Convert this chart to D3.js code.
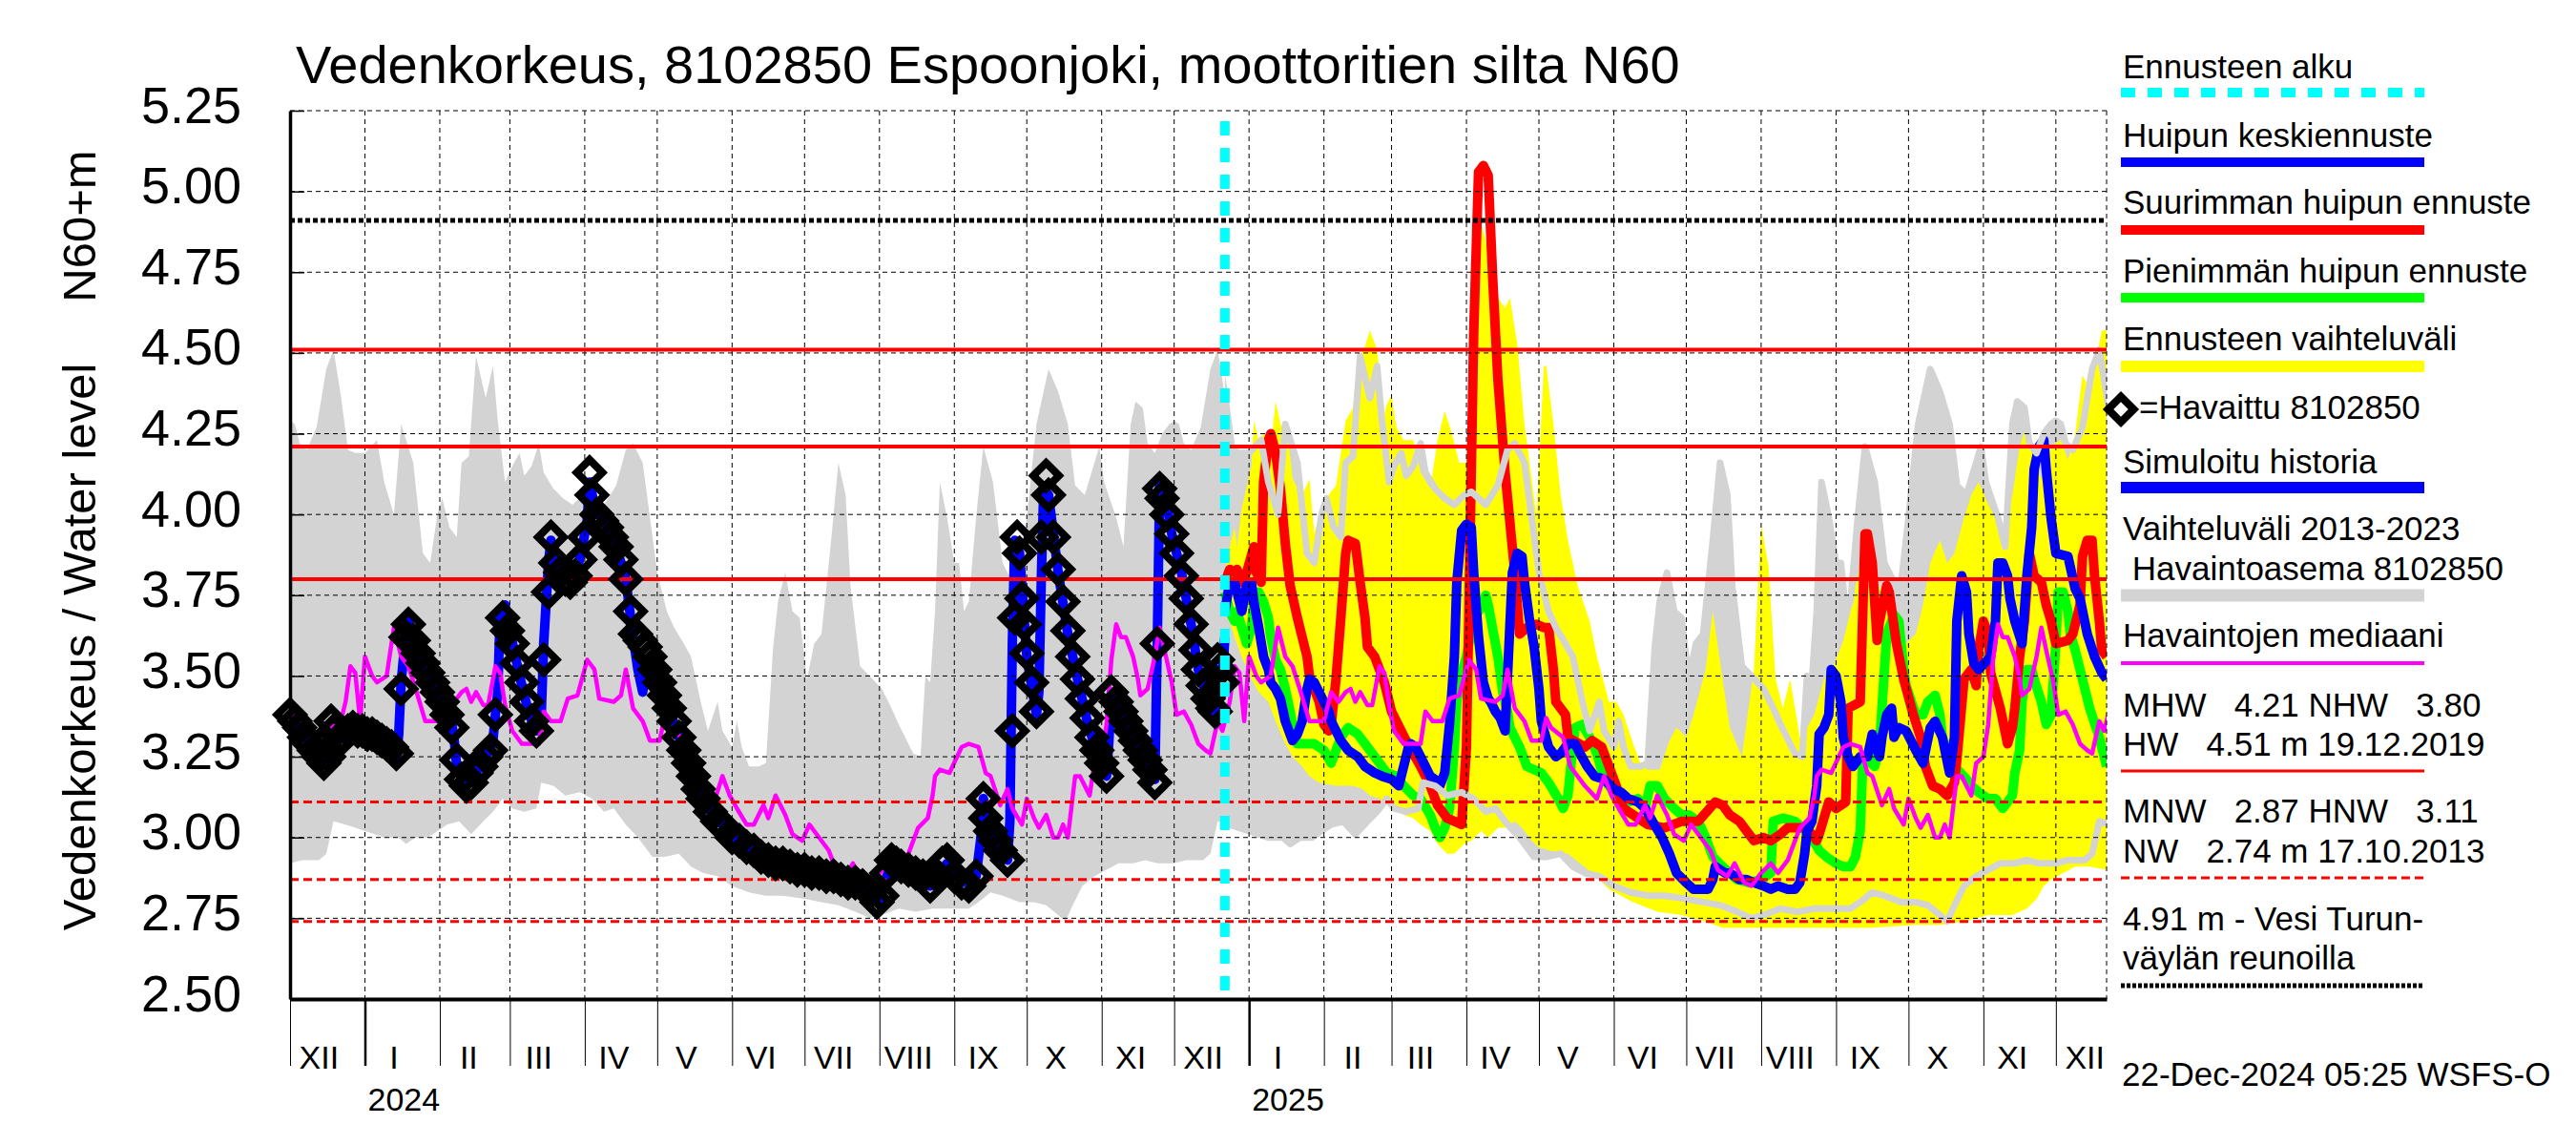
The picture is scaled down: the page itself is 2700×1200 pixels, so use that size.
<!DOCTYPE html>
<html lang="fi">
<head>
<meta charset="utf-8" />
<title>Vedenkorkeus 8102850 Espoonjoki</title>
<script src="https://d3js.org/d3.v7.min.js"></script>
<style>
  body { margin: 0; background: #fff; }
  svg { display: block; font-family: "Liberation Sans", Arial, Helvetica, sans-serif; }
</style>
</head>
<body>
<svg width="2700" height="1200"></svg>
<script>
// ---- data ----
const yTicks = [2.50, 2.75, 3.00, 3.25, 3.50, 3.75, 4.00, 4.25, 4.50, 4.75, 5.00, 5.25];
const monthNames = ["I","II","III","IV","V","VI","VII","VIII","IX","X","XI","XII"];
const refSolid = [4.51, 4.21, 3.80];   // HW, MHW, NHW
const refDashed = [3.11, 2.87, 2.74];  // HNW, MNW, NW
const fairway = 4.91;
const forecastStart = "2024-12-22";

// historic range 2013-2023, per day of year
const grayMaxDays = ["12-01","12-03","12-05","12-08","12-12","12-16","12-19","12-22","12-25","12-28",
  "01-01","01-06","01-09","01-13","01-16","01-21","01-25","01-28","01-31","02-02","02-05","02-08","02-10",
  "02-13","02-16","02-20","02-23","02-25","02-28","03-02","03-05","03-07","03-10","03-13","03-15","03-19",
  "03-23","03-27","03-31","04-03","04-09","04-14","04-18","04-21","04-25","04-28","05-01","05-05","05-08",
  "05-12","05-15","05-19","05-22","05-26","05-28","06-01","06-03","06-05","06-08","06-12","06-15","06-18",
  "06-20","06-23","06-26","06-29","07-02","07-05","07-08","07-12","07-15","07-18","07-20","07-24","07-28",
  "08-02","08-06","08-09","08-15","08-18","08-20","08-22","08-24","08-26","08-29","09-01","09-03","09-05",
  "09-07","09-10","09-13","09-17","09-21","09-25","09-28","10-01","10-05","10-10","10-14","10-18","10-21",
  "10-25","10-29","10-31","11-02","11-07","11-10","11-13","11-15","11-18","11-20","11-23","11-26","11-29"];
const grayMaxVals = [4.29,4.28,4.22,4.20,4.27,4.45,4.51,4.37,4.20,4.19,
  4.19,4.23,4.10,4.00,4.28,4.16,3.88,3.85,4.00,4.05,3.96,3.93,4.16,
  4.18,4.49,4.36,4.46,4.29,4.10,4.15,4.19,4.12,4.15,4.22,4.13,4.08,
  4.05,4.03,4.06,4.07,4.03,4.09,4.20,4.22,4.16,3.99,3.82,3.70,3.65,
  3.60,3.56,3.42,3.33,3.42,3.33,3.28,3.36,3.28,3.22,3.22,3.23,3.59,
  3.73,3.82,3.70,3.68,3.49,3.60,3.63,3.92,4.16,4.06,3.78,3.53,3.50,
  3.46,3.40,3.35,3.26,3.25,3.50,3.48,3.70,4.10,3.99,3.85,3.85,3.70,
  3.73,3.99,4.21,4.10,3.85,3.79,3.79,3.99,4.28,4.45,4.38,4.28,4.09,
  4.06,4.16,4.21,4.10,3.99,3.90,4.28,4.35,4.33,4.22,4.19,4.25,4.28];
const grayMinDays = ["12-01","12-06","12-13","12-16","12-19","12-24","12-28","01-01","01-05","01-09",
  "01-15","01-18","01-22","01-27","01-31","02-04","02-09","02-14","02-19","02-23","02-27","03-02","03-07",
  "03-12","03-14","03-19","03-24","03-30","04-04","04-09","04-13","04-18","04-23","04-29","05-04","05-10",
  "05-15","05-20","05-26","06-01","06-08","06-15","06-22","07-01","07-08","07-15","07-22","07-28","08-02",
  "08-09","08-16","08-23","08-30","09-07","09-11","09-16","09-21","09-28","10-04","10-09","10-14","10-17",
  "10-20","10-24","10-29","11-03","11-08","11-14","11-19","11-24","11-28"];
const grayMinVals = [2.92,2.93,2.93,2.95,3.05,3.04,3.03,3.02,3.01,3.00,
  3.00,2.98,3.00,3.00,3.02,3.04,3.05,3.01,3.05,3.08,3.12,3.09,3.08,
  3.09,3.17,3.16,3.13,3.14,3.12,3.08,3.09,3.04,3.00,2.94,2.94,2.95,
  2.91,2.89,2.88,2.85,2.83,2.82,2.82,2.81,2.80,2.79,2.77,2.75,2.76,
  2.78,2.77,2.78,2.78,2.78,2.80,2.83,2.82,2.80,2.80,2.79,2.76,2.74,
  2.79,2.85,2.88,2.90,2.92,2.92,2.93,2.92,2.92];

// median of observations, per day of year
const medianDays = ["12-02","12-05","12-08","12-11","12-14","12-16","12-19","12-21","12-24","12-26","12-28","12-30",
  "01-01","01-04","01-06","01-10","01-13","01-16","01-19","01-22","01-26","01-29","02-01","02-04","02-07","02-10",
  "02-12","02-14","02-16","02-19","02-21","02-24","02-26","02-28","03-02","03-06","03-09","03-13","03-15","03-18",
  "03-22","03-25","03-29","04-02","04-05","04-07","04-13","04-16","04-18","04-21","04-25","04-28","05-02","05-04",
  "05-06","05-11","05-14","05-20","05-25","05-28","05-31","06-03","06-07","06-10","06-14","06-16","06-19","06-23",
  "06-26","06-30","07-03","07-07","07-11","07-14","07-18","07-21","07-25","07-28","08-01","08-05","08-08","08-12",
  "08-15","08-17","08-21","08-23","08-24","08-26","08-30","09-04","09-07","09-11","09-14","09-16","09-20","09-23",
  "09-25","09-29","10-01","10-04","10-06","10-09","10-12","10-14","10-16","10-18","10-21","10-23","10-27","10-29",
  "11-01","11-03","11-05","11-07","11-09","11-11","11-14","11-16","11-17","11-20","11-23","11-25","11-27","11-30"];
const medianVals = [3.38,3.39,3.35,3.29,3.27,3.26,3.36,3.33,3.42,3.53,3.51,3.36,
  3.56,3.50,3.48,3.50,3.65,3.56,3.53,3.46,3.36,3.36,3.36,3.45,3.42,3.45,
  3.46,3.42,3.45,3.41,3.41,3.53,3.51,3.41,3.33,3.29,3.29,3.29,3.39,3.36,
  3.36,3.43,3.44,3.55,3.52,3.43,3.42,3.44,3.52,3.40,3.36,3.30,3.30,3.37,
  3.34,3.31,3.22,3.16,3.12,3.19,3.13,3.09,3.04,3.04,3.10,3.06,3.13,3.07,
  3.01,2.99,3.04,3.00,2.96,2.90,2.88,2.92,2.86,2.85,2.89,2.92,2.89,2.93,
  2.99,3.03,3.06,3.13,3.19,3.21,3.20,3.28,3.29,3.28,3.20,3.19,3.10,3.15,
  3.09,3.04,3.12,3.06,3.03,3.07,3.00,3.00,3.04,3.00,3.19,3.19,3.13,3.23,
  3.25,3.35,3.55,3.66,3.62,3.62,3.56,3.49,3.44,3.46,3.56,3.65,3.58,3.48];

// observed water level (diamonds)
const obsDates = ["2023-12-01","2023-12-03","2023-12-05","2023-12-07","2023-12-09","2023-12-11","2023-12-13","2023-12-15",
  "2023-12-17","2023-12-18","2023-12-19","2023-12-21","2023-12-23","2023-12-25","2023-12-27","2023-12-29","2023-12-31",
  "2024-01-02","2024-01-04","2024-01-06","2024-01-08","2024-01-10","2024-01-12","2024-01-14","2024-01-16","2024-01-18",
  "2024-01-19","2024-01-21","2024-01-23","2024-01-25","2024-01-27","2024-01-29","2024-01-31","2024-02-02","2024-02-04",
  "2024-02-06","2024-02-08","2024-02-10","2024-02-12","2024-02-14","2024-02-16","2024-02-18","2024-02-20","2024-02-22",
  "2024-02-24","2024-02-27","2024-02-29","2024-03-02","2024-03-04","2024-03-06","2024-03-08","2024-03-10","2024-03-12",
  "2024-03-15","2024-03-17","2024-03-18","2024-03-20","2024-03-22","2024-03-24","2024-03-26","2024-03-28","2024-03-30",
  "2024-04-01","2024-04-03","2024-04-04","2024-04-06","2024-04-08","2024-04-10","2024-04-12","2024-04-14","2024-04-16",
  "2024-04-18","2024-04-20","2024-04-22","2024-04-24","2024-04-26","2024-04-28","2024-04-30","2024-05-02","2024-05-04",
  "2024-05-06","2024-05-08","2024-05-10","2024-05-12","2024-05-14","2024-05-16","2024-05-18","2024-05-20","2024-05-23",
  "2024-05-26","2024-05-29","2024-06-01","2024-06-04","2024-06-07","2024-06-10","2024-06-13","2024-06-16","2024-06-19",
  "2024-06-22","2024-06-25","2024-06-28","2024-07-01","2024-07-04","2024-07-07","2024-07-10","2024-07-13","2024-07-16",
  "2024-07-19","2024-07-22","2024-07-25","2024-07-28","2024-07-31","2024-08-02","2024-08-04","2024-08-06","2024-08-08",
  "2024-08-10","2024-08-13","2024-08-16","2024-08-19","2024-08-22","2024-08-25","2024-08-27","2024-08-29","2024-09-01",
  "2024-09-04","2024-09-07","2024-09-10","2024-09-13","2024-09-14","2024-09-16","2024-09-18","2024-09-20","2024-09-23",
  "2024-09-25","2024-09-26","2024-09-27","2024-09-28","2024-09-29","2024-09-30","2024-10-01","2024-10-03","2024-10-05",
  "2024-10-07","2024-10-09","2024-10-10","2024-10-12","2024-10-14","2024-10-16","2024-10-18","2024-10-20","2024-10-22",
  "2024-10-24","2024-10-26","2024-10-28","2024-10-30","2024-11-01","2024-11-03","2024-11-05","2024-11-07","2024-11-09",
  "2024-11-11","2024-11-13","2024-11-15","2024-11-17","2024-11-19","2024-11-21","2024-11-23","2024-11-24","2024-11-25",
  "2024-11-26","2024-11-28","2024-11-30","2024-12-02","2024-12-04","2024-12-06","2024-12-08","2024-12-10","2024-12-11",
  "2024-12-13","2024-12-15","2024-12-17","2024-12-18","2024-12-19","2024-12-20","2024-12-21"];
const obsVals = [3.38,3.36,3.34,3.31,3.29,3.27,3.25,3.23,
  3.25,3.36,3.33,3.30,3.31,3.33,3.34,3.33,3.33,
  3.32,3.32,3.31,3.30,3.29,3.28,3.26,3.46,3.62,
  3.66,3.61,3.57,3.54,3.51,3.48,3.45,3.42,3.38,
  3.34,3.24,3.18,3.16,3.17,3.20,3.22,3.25,3.27,
  3.38,3.68,3.64,3.60,3.54,3.48,3.42,3.36,3.33,
  3.55,3.76,3.93,3.85,3.82,3.80,3.79,3.81,3.86,
  3.93,4.13,4.06,4.00,3.98,3.96,3.93,3.90,3.86,
  3.80,3.70,3.63,3.61,3.59,3.56,3.52,3.48,3.44,
  3.40,3.36,3.31,3.27,3.23,3.19,3.15,3.12,3.08,
  3.05,3.03,3.00,2.99,2.97,2.96,2.94,2.93,2.92,
  2.92,2.91,2.90,2.90,2.89,2.89,2.88,2.88,2.87,
  2.86,2.86,2.85,2.83,2.80,2.82,2.89,2.93,2.92,
  2.91,2.90,2.89,2.88,2.85,2.88,2.92,2.93,2.88,
  2.86,2.85,2.88,3.12,3.06,3.02,2.99,2.96,2.93,
  3.33,3.68,3.93,3.88,3.74,3.66,3.57,3.48,3.39,
  3.93,4.12,4.06,3.93,3.83,3.73,3.64,3.56,3.49,
  3.43,3.37,3.31,3.27,3.23,3.19,3.45,3.42,3.39,
  3.36,3.33,3.30,3.27,3.24,3.21,3.17,3.60,4.08,
  4.05,4.00,3.94,3.88,3.81,3.74,3.66,3.58,3.52,
  3.47,3.43,3.40,3.39,3.55,3.52,3.48];

// simulated history (blue)
const simDates = ["2023-12-01","2023-12-05","2023-12-09","2023-12-13","2023-12-16","2023-12-17","2023-12-18","2023-12-20",
  "2023-12-23","2023-12-27","2023-12-31","2024-01-05","2024-01-10","2024-01-14","2024-01-15","2024-01-16","2024-01-18",
  "2024-01-19","2024-01-22","2024-01-26","2024-01-30","2024-02-03","2024-02-06","2024-02-07","2024-02-08","2024-02-12",
  "2024-02-16","2024-02-20","2024-02-23","2024-02-24","2024-02-25","2024-02-26","2024-02-28","2024-03-01","2024-03-05",
  "2024-03-09","2024-03-12","2024-03-14","2024-03-15","2024-03-17","2024-03-18","2024-03-20","2024-03-24","2024-03-28",
  "2024-03-31","2024-04-02","2024-04-03","2024-04-05","2024-04-10","2024-04-14","2024-04-18","2024-04-21","2024-04-23",
  "2024-04-25","2024-04-27","2024-04-29","2024-05-01","2024-05-05","2024-05-09","2024-05-15","2024-05-21","2024-05-29",
  "2024-06-05","2024-06-13","2024-06-21","2024-06-30","2024-07-10","2024-07-20","2024-07-29","2024-08-01","2024-08-04",
  "2024-08-07","2024-08-14","2024-08-22","2024-08-29","2024-09-04","2024-09-10","2024-09-12","2024-09-13","2024-09-17",
  "2024-09-23","2024-09-24","2024-09-25","2024-09-26","2024-09-28","2024-10-01","2024-10-05","2024-10-06","2024-10-07",
  "2024-10-08","2024-10-10","2024-10-14","2024-10-18","2024-10-22","2024-10-26","2024-10-30","2024-11-03","2024-11-04",
  "2024-11-05","2024-11-09","2024-11-13","2024-11-17","2024-11-21","2024-11-23","2024-11-24","2024-11-25","2024-11-28",
  "2024-11-30","2024-12-04","2024-12-08","2024-12-11","2024-12-15","2024-12-18","2024-12-19","2024-12-21","2024-12-22"];
const simVals = [3.37,3.34,3.29,3.25,3.22,3.30,3.35,3.30,
  3.31,3.34,3.33,3.32,3.29,3.25,3.32,3.48,3.64,
  3.67,3.59,3.53,3.47,3.41,3.35,3.30,3.22,3.16,
  3.20,3.25,3.30,3.38,3.45,3.70,3.72,3.64,3.50,
  3.38,3.33,3.38,3.60,3.85,3.92,3.84,3.80,3.80,
  3.90,3.98,4.10,4.03,3.96,3.90,3.80,3.62,3.52,
  3.45,3.55,3.55,3.50,3.42,3.33,3.22,3.10,3.03,
  2.98,2.94,2.92,2.90,2.88,2.86,2.82,2.80,2.88,
  2.93,2.89,2.85,2.92,2.86,2.88,3.00,3.12,3.00,
  2.93,3.05,3.60,3.92,3.88,3.56,3.38,3.45,3.80,
  4.08,4.06,3.82,3.63,3.49,3.36,3.26,3.19,3.30,
  3.45,3.39,3.33,3.27,3.21,3.18,3.60,4.09,4.03,
  3.94,3.82,3.66,3.52,3.42,3.38,3.52,3.50,3.62];

// forecast range (yellow)
const bandTopDates = ["2024-12-22","2024-12-24","2024-12-26","2024-12-27","2024-12-29","2025-01-02","2025-01-03","2025-01-05",
  "2025-01-07","2025-01-10","2025-01-12","2025-01-14","2025-01-17","2025-01-19","2025-01-23","2025-01-26","2025-01-28",
  "2025-01-31","2025-02-03","2025-02-06","2025-02-10","2025-02-13","2025-02-15","2025-02-18","2025-02-20","2025-02-23",
  "2025-02-26","2025-02-27","2025-03-01","2025-03-03","2025-03-06","2025-03-10","2025-03-13","2025-03-17","2025-03-20",
  "2025-03-23","2025-03-26","2025-03-29","2025-04-01","2025-04-03","2025-04-05","2025-04-07","2025-04-09","2025-04-11",
  "2025-04-13","2025-04-17","2025-04-19","2025-04-22","2025-04-25","2025-04-27","2025-04-30","2025-05-03","2025-05-04",
  "2025-05-07","2025-05-10","2025-05-13","2025-05-17","2025-05-22","2025-05-25","2025-05-30","2025-06-02","2025-06-05",
  "2025-06-09","2025-06-12","2025-06-15","2025-06-20","2025-06-24","2025-06-27","2025-07-01","2025-07-04","2025-07-09",
  "2025-07-12","2025-07-16","2025-07-19","2025-07-24","2025-07-29","2025-08-01","2025-08-04","2025-08-07","2025-08-10",
  "2025-08-13","2025-08-17","2025-08-20","2025-08-23","2025-08-27","2025-08-30","2025-09-04","2025-09-07","2025-09-11",
  "2025-09-14","2025-09-17","2025-09-20","2025-09-24","2025-09-27","2025-09-30","2025-10-04","2025-10-07","2025-10-10",
  "2025-10-14","2025-10-17","2025-10-20","2025-10-24","2025-10-27","2025-10-30","2025-11-03","2025-11-06","2025-11-09",
  "2025-11-13","2025-11-16","2025-11-19","2025-11-23","2025-11-26","2025-11-29","2025-12-03","2025-12-06","2025-12-09",
  "2025-12-12","2025-12-15","2025-12-19","2025-12-20","2025-12-22"];
const bandTopVals = [3.82,3.90,3.96,3.90,4.02,4.15,4.29,4.23,
  4.25,4.21,4.35,4.28,4.25,4.11,4.06,4.11,3.94,
  4.02,4.06,4.09,4.29,4.33,4.48,4.52,4.57,4.51,
  4.31,4.34,4.37,4.27,4.23,4.23,4.13,4.08,4.23,
  4.32,4.25,4.16,4.16,4.55,4.80,4.90,4.85,4.72,
  4.68,4.64,4.67,4.53,4.28,4.17,3.99,4.46,4.46,
  4.28,4.06,3.92,3.78,3.67,3.56,3.42,3.42,3.38,
  3.29,3.23,3.21,3.21,3.30,3.34,3.31,3.38,3.52,
  3.70,3.49,3.34,3.25,3.52,3.97,3.84,3.49,3.40,
  3.49,3.31,3.34,3.38,3.49,3.51,3.61,3.70,3.85,
  3.92,3.81,3.76,3.70,3.63,3.60,3.63,3.72,3.85,
  3.92,3.85,3.88,3.99,4.06,4.10,4.03,3.99,3.92,
  4.06,4.21,4.28,4.14,4.10,4.21,4.23,4.17,4.25,
  4.43,4.39,4.53,4.57,4.57];
const bandLowDates = ["2024-12-22","2024-12-26","2024-12-29","2025-01-02","2025-01-05","2025-01-09","2025-01-12","2025-01-16",
  "2025-01-19","2025-01-23","2025-01-26","2025-01-30","2025-02-06","2025-02-13","2025-02-17","2025-02-20","2025-02-24",
  "2025-02-27","2025-03-03","2025-03-06","2025-03-10","2025-03-13","2025-03-17","2025-03-20","2025-03-24","2025-03-27",
  "2025-03-31","2025-04-03","2025-04-07","2025-04-10","2025-04-14","2025-04-17","2025-04-21","2025-04-24","2025-04-28",
  "2025-05-01","2025-05-05","2025-05-13","2025-05-23","2025-05-30","2025-06-09","2025-06-19","2025-06-29","2025-07-09",
  "2025-07-16","2025-08-15","2025-09-15","2025-10-04","2025-10-14","2025-10-24","2025-11-03","2025-11-13","2025-11-19",
  "2025-11-23","2025-11-26","2025-11-29","2025-12-04","2025-12-09","2025-12-15","2025-12-22"];
const bandLowVals = [3.72,3.62,3.56,3.49,3.45,3.42,3.36,3.29,
  3.25,3.22,3.19,3.17,3.16,3.16,3.15,3.13,3.12,
  3.10,3.09,3.07,3.06,3.04,3.02,2.98,2.95,2.95,
  2.98,2.99,3.02,3.00,3.03,3.03,3.05,3.03,2.99,
  2.97,2.96,2.95,2.89,2.84,2.80,2.77,2.76,2.74,
  2.72,2.72,2.72,2.73,2.73,2.74,2.76,2.76,2.78,
  2.81,2.85,2.87,2.89,2.91,2.91,2.90];

// peak forecasts: maximum (red), minimum (green), mean (blue)
const maxDates = ["2024-12-22","2024-12-24","2024-12-26","2024-12-27","2024-12-29","2024-12-31","2025-01-03","2025-01-04",
  "2025-01-06","2025-01-07","2025-01-09","2025-01-10","2025-01-12","2025-01-14","2025-01-16","2025-01-18","2025-01-21",
  "2025-01-25","2025-01-26","2025-01-30","2025-02-01","2025-02-03","2025-02-04","2025-02-06","2025-02-08","2025-02-10",
  "2025-02-11","2025-02-14","2025-02-16","2025-02-18","2025-02-19","2025-02-22","2025-02-26","2025-03-01","2025-03-07",
  "2025-03-13","2025-03-17","2025-03-20","2025-03-24","2025-03-30","2025-04-01","2025-04-02","2025-04-03","2025-04-04",
  "2025-04-06","2025-04-08","2025-04-10","2025-04-12","2025-04-14","2025-04-17","2025-04-21","2025-04-23","2025-04-26",
  "2025-04-30","2025-05-03","2025-05-05","2025-05-07","2025-05-08","2025-05-12","2025-05-13","2025-05-20","2025-05-23",
  "2025-05-27","2025-05-30","2025-06-02","2025-06-05","2025-06-09","2025-06-15","2025-06-22","2025-06-29","2025-07-06",
  "2025-07-13","2025-07-16","2025-07-19","2025-07-23","2025-07-26","2025-07-29","2025-08-02","2025-08-05","2025-08-09",
  "2025-08-12","2025-08-15","2025-08-19","2025-08-22","2025-08-24","2025-08-25","2025-08-29","2025-09-01","2025-09-05",
  "2025-09-06","2025-09-11","2025-09-13","2025-09-14","2025-09-16","2025-09-18","2025-09-19","2025-09-22","2025-09-23",
  "2025-09-26","2025-09-29","2025-10-03","2025-10-06","2025-10-08","2025-10-11","2025-10-14","2025-10-17","2025-10-20",
  "2025-10-21","2025-10-24","2025-10-27","2025-10-29","2025-10-30","2025-11-01","2025-11-03","2025-11-04","2025-11-08",
  "2025-11-11","2025-11-13","2025-11-14","2025-11-16","2025-11-18","2025-11-20","2025-11-22","2025-11-25","2025-11-27",
  "2025-11-29","2025-12-01","2025-12-06","2025-12-08","2025-12-11","2025-12-12","2025-12-14","2025-12-16","2025-12-17",
  "2025-12-19","2025-12-20","2025-12-22"];
const maxVals = [3.79,3.83,3.82,3.83,3.79,3.82,3.90,3.82,
  3.79,4.10,4.23,4.25,4.19,4.08,3.91,3.78,3.68,
  3.56,3.50,3.42,3.35,3.33,3.35,3.49,3.68,3.88,
  3.92,3.91,3.79,3.68,3.59,3.56,3.48,3.39,3.30,
  3.22,3.16,3.10,3.06,3.04,3.28,3.70,4.13,4.56,
  5.06,5.08,5.05,4.71,4.42,4.13,3.82,3.63,3.65,
  3.66,3.65,3.65,3.52,3.42,3.38,3.31,3.28,3.30,
  3.28,3.22,3.16,3.09,3.07,3.04,3.03,3.05,3.05,
  3.11,3.10,3.07,3.05,3.02,2.99,3.00,2.99,3.01,
  3.03,3.03,3.03,3.01,2.99,3.01,3.11,3.09,3.11,
  3.40,3.42,3.94,3.94,3.85,3.61,3.67,3.78,3.76,
  3.60,3.49,3.38,3.31,3.22,3.16,3.15,3.13,3.17,
  3.24,3.49,3.52,3.47,3.58,3.67,3.63,3.51,3.40,
  3.29,3.34,3.40,3.56,3.67,3.88,3.81,3.79,3.72,
  3.67,3.60,3.61,3.63,3.72,3.87,3.92,3.92,3.81,
  3.67,3.58,3.56];
const minDates = ["2024-12-22","2024-12-24","2024-12-26","2024-12-27","2024-12-29","2024-12-31","2025-01-02","2025-01-03",
  "2025-01-05","2025-01-07","2025-01-09","2025-01-10","2025-01-12","2025-01-14","2025-01-16","2025-01-18","2025-01-19",
  "2025-01-21","2025-01-25","2025-01-28","2025-02-01","2025-02-04","2025-02-08","2025-02-11","2025-02-15","2025-02-18",
  "2025-02-24","2025-02-27","2025-03-03","2025-03-06","2025-03-10","2025-03-13","2025-03-17","2025-03-19","2025-03-21",
  "2025-03-23","2025-03-25","2025-03-27","2025-03-28","2025-03-30","2025-04-01","2025-04-04","2025-04-07","2025-04-09",
  "2025-04-10","2025-04-12","2025-04-14","2025-04-16","2025-04-18","2025-04-19","2025-04-23","2025-04-26","2025-05-02",
  "2025-05-05","2025-05-09","2025-05-11","2025-05-13","2025-05-15","2025-05-16","2025-05-19","2025-05-22","2025-05-25",
  "2025-05-28","2025-06-01","2025-06-04","2025-06-07","2025-06-11","2025-06-14","2025-06-16","2025-06-19","2025-06-22",
  "2025-06-26","2025-06-29","2025-07-02","2025-07-06","2025-07-09","2025-07-12","2025-07-16","2025-07-19","2025-07-22",
  "2025-07-27","2025-08-01","2025-08-05","2025-08-06","2025-08-10","2025-08-15","2025-08-18","2025-08-22","2025-08-25",
  "2025-08-28","2025-09-01","2025-09-04","2025-09-07","2025-09-09","2025-09-11","2025-09-12","2025-09-14","2025-09-17",
  "2025-09-19","2025-09-20","2025-09-22","2025-09-25","2025-09-27","2025-09-29","2025-09-30","2025-10-04","2025-10-07",
  "2025-10-09","2025-10-12","2025-10-14","2025-10-15","2025-10-17","2025-10-20","2025-10-25","2025-10-27","2025-10-30",
  "2025-11-03","2025-11-06","2025-11-09","2025-11-13","2025-11-14","2025-11-16","2025-11-17","2025-11-19","2025-11-21",
  "2025-11-22","2025-11-25","2025-11-27","2025-11-29","2025-12-01","2025-12-02","2025-12-04","2025-12-06","2025-12-07",
  "2025-12-09","2025-12-12","2025-12-15","2025-12-19","2025-12-22"];
const minVals = [3.76,3.70,3.67,3.70,3.65,3.60,3.65,3.73,
  3.76,3.73,3.68,3.62,3.55,3.52,3.46,3.39,3.35,
  3.29,3.29,3.29,3.27,3.23,3.31,3.34,3.32,3.29,
  3.23,3.20,3.19,3.16,3.13,3.12,3.07,3.03,3.00,
  3.03,3.09,3.28,3.42,3.51,3.56,3.68,3.71,3.75,
  3.72,3.64,3.56,3.45,3.39,3.34,3.28,3.22,3.20,
  3.17,3.12,3.09,3.13,3.28,3.34,3.35,3.31,3.26,
  3.18,3.14,3.12,3.11,3.12,3.09,3.16,3.16,3.12,
  3.09,3.07,3.07,3.05,3.00,2.94,2.91,2.89,2.87,
  2.86,2.87,2.89,3.05,3.06,3.05,3.03,3.00,2.96,
  2.94,2.92,2.91,2.91,2.94,3.02,3.22,3.24,3.22,
  3.28,3.40,3.63,3.69,3.67,3.52,3.47,3.38,3.38,
  3.42,3.44,3.38,3.31,3.27,3.22,3.18,3.16,3.14,
  3.12,3.12,3.09,3.13,3.20,3.27,3.42,3.52,3.52,
  3.49,3.42,3.35,3.38,3.60,3.76,3.76,3.70,3.63,
  3.58,3.49,3.40,3.31,3.22];
const meanDates = ["2024-12-22","2024-12-24","2024-12-26","2024-12-27","2024-12-29","2024-12-31","2025-01-02","2025-01-03",
  "2025-01-05","2025-01-07","2025-01-09","2025-01-10","2025-01-12","2025-01-14","2025-01-16","2025-01-18","2025-01-19",
  "2025-01-21","2025-01-23","2025-01-25","2025-01-26","2025-01-28","2025-01-30","2025-02-01","2025-02-03","2025-02-04",
  "2025-02-06","2025-02-08","2025-02-11","2025-02-15","2025-02-18","2025-02-22","2025-02-25","2025-03-01","2025-03-04",
  "2025-03-06","2025-03-08","2025-03-09","2025-03-11","2025-03-13","2025-03-15","2025-03-17","2025-03-19","2025-03-21",
  "2025-03-23","2025-03-25","2025-03-27","2025-03-28","2025-03-30","2025-04-01","2025-04-03","2025-04-04","2025-04-06",
  "2025-04-08","2025-04-10","2025-04-11","2025-04-13","2025-04-15","2025-04-17","2025-04-18","2025-04-20","2025-04-22",
  "2025-04-24","2025-04-25","2025-04-27","2025-04-29","2025-05-01","2025-05-02","2025-05-05","2025-05-08","2025-05-10",
  "2025-05-13","2025-05-16","2025-05-18","2025-05-21","2025-05-24","2025-05-28","2025-06-01","2025-06-04","2025-06-07",
  "2025-06-11","2025-06-14","2025-06-17","2025-06-21","2025-06-24","2025-06-27","2025-07-01","2025-07-04","2025-07-07",
  "2025-07-10","2025-07-12","2025-07-13","2025-07-17","2025-07-19","2025-07-23","2025-07-26","2025-07-29","2025-08-02",
  "2025-08-05","2025-08-08","2025-08-12","2025-08-15","2025-08-17","2025-08-19","2025-08-20","2025-08-22","2025-08-24",
  "2025-08-25","2025-08-27","2025-08-29","2025-08-30","2025-09-01","2025-09-03","2025-09-04","2025-09-06","2025-09-08",
  "2025-09-11","2025-09-14","2025-09-16","2025-09-17","2025-09-19","2025-09-20","2025-09-22","2025-09-24","2025-09-25",
  "2025-09-27","2025-09-30","2025-10-04","2025-10-07","2025-10-10","2025-10-12","2025-10-15","2025-10-18","2025-10-20",
  "2025-10-21","2025-10-23","2025-10-25","2025-10-26","2025-10-28","2025-10-30","2025-11-04","2025-11-06","2025-11-07",
  "2025-11-09","2025-11-11","2025-11-12","2025-11-14","2025-11-17","2025-11-19","2025-11-21","2025-11-22","2025-11-24",
  "2025-11-26","2025-11-27","2025-11-29","2025-12-01","2025-12-06","2025-12-09","2025-12-11","2025-12-14","2025-12-17",
  "2025-12-20","2025-12-22"];
const meanVals = [3.70,3.79,3.79,3.76,3.70,3.78,3.79,3.73,
  3.65,3.56,3.52,3.48,3.46,3.43,3.36,3.32,3.30,
  3.32,3.36,3.46,3.49,3.48,3.45,3.42,3.39,3.36,
  3.33,3.30,3.27,3.25,3.22,3.20,3.19,3.18,3.16,
  3.22,3.28,3.29,3.28,3.25,3.22,3.19,3.18,3.16,
  3.20,3.35,3.56,3.79,3.95,3.97,3.96,3.82,3.62,
  3.48,3.43,3.42,3.39,3.37,3.33,3.50,3.82,3.88,
  3.87,3.79,3.68,3.59,3.46,3.36,3.28,3.25,3.26,
  3.29,3.29,3.26,3.22,3.19,3.18,3.15,3.14,3.12,
  3.11,3.09,3.05,3.00,2.95,2.89,2.86,2.84,2.84,
  2.84,2.87,2.91,2.89,2.89,2.87,2.87,2.86,2.85,
  2.84,2.85,2.84,2.84,2.86,2.95,3.02,3.05,3.16,
  3.32,3.34,3.38,3.52,3.50,3.42,3.31,3.25,3.22,
  3.25,3.25,3.32,3.29,3.25,3.31,3.38,3.40,3.31,
  3.34,3.33,3.27,3.23,3.34,3.36,3.31,3.20,3.31,
  3.67,3.81,3.76,3.63,3.54,3.52,3.56,3.67,3.85,
  3.85,3.81,3.74,3.67,3.60,3.81,3.96,4.14,4.21,
  4.23,4.14,3.99,3.88,3.87,3.77,3.74,3.63,3.56,
  3.51,3.49];

// ---- drawing ----
const svg = d3.select("svg");
const parse = d3.timeParse("%Y-%m-%d");
const L = 304, R = 2208, T = 116, B = 1047;
const NB = "\u00a0";

const x = d3.scaleTime().domain([parse("2023-12-01"), parse("2025-12-22")]).range([L, R]);
const y = d3.scaleLinear().domain([2.5, 5.25]).range([B, T]);
const fcDate = parse(forecastStart);

function series(dates, vals) {
  return dates.map((d, i) => ({ date: parse(d), v: vals[i] }));
}
// day-of-year statistics repeated over every year of the view
function yearly(days, vals) {
  const out = [];
  [2023, 2024, 2025].forEach(yr => {
    days.forEach((d, i) => {
      const dt = parse(yr + "-" + d);
      if (dt >= parse("2023-11-10") && dt <= parse("2026-01-15")) out.push({ date: dt, v: vals[i] });
    });
  });
  return out.sort((a, b) => a.date - b.date);
}

const line = d3.line().x(d => x(d.date)).y(d => y(d.v));
function band(top, low) { return line(top.concat(low.slice().reverse())) + "Z"; }

const grayMax = yearly(grayMaxDays, grayMaxVals);
const grayMin = yearly(grayMinDays, grayMinVals);
const median = yearly(medianDays, medianVals);
const obs = series(obsDates, obsVals);
const sim = series(simDates, simVals);
const bandTop = series(bandTopDates, bandTopVals);
const bandLow = series(bandLowDates, bandLowVals);
const fcMax = series(maxDates, maxVals);
const fcMin = series(minDates, minVals);
const fcMean = series(meanDates, meanVals);

const defs = svg.append("defs");
defs.append("clipPath").attr("id", "plot")
  .append("rect").attr("x", L).attr("y", T).attr("width", R - L).attr("height", B - T);
defs.append("clipPath").attr("id", "fc")
  .append("rect").attr("x", x(fcDate)).attr("y", T).attr("width", R - x(fcDate)).attr("height", B - T);

const plot = svg.append("g").attr("clip-path", "url(#plot)");

// historic range
plot.append("path").attr("d", band(grayMax, grayMin)).attr("fill", "#d3d3d3");
// forecast range
plot.append("path").attr("d", band(bandTop, bandLow)).attr("fill", "#ffff00");
// historic range edges over the forecast period
const fcGray = svg.append("g").attr("clip-path", "url(#fc)");
[grayMax, grayMin].forEach(s => {
  fcGray.append("path").attr("d", line(s)).attr("fill", "none")
    .attr("stroke", "#d3d3d3").attr("stroke-width", 7).attr("stroke-linejoin", "round");
});

// grid
const grid = svg.append("g").attr("stroke", "#000").attr("stroke-width", 1).attr("stroke-dasharray", "5,4");
grid.selectAll("line.h").data(yTicks.slice(1)).join("line")
  .attr("x1", L).attr("x2", R).attr("y1", d => y(d)).attr("y2", d => y(d));
const months = d3.timeMonth.range(d3.timeMonth.ceil(x.domain()[0]), x.domain()[1]);
grid.selectAll("line.v").data(months.filter(m => x(m) > L + 2)).join("line")
  .attr("x1", d => x(d)).attr("x2", d => x(d)).attr("y1", T).attr("y2", B);
grid.append("line").attr("x1", R).attr("x2", R).attr("y1", T).attr("y2", B);

// reference levels
const refs = svg.append("g");
refs.selectAll("line.s").data(refSolid).join("line")
  .attr("x1", L).attr("x2", R).attr("y1", d => y(d)).attr("y2", d => y(d))
  .attr("stroke", "#ff0000").attr("stroke-width", 4);
refs.selectAll("line.d").data(refDashed).join("line")
  .attr("x1", L).attr("x2", R).attr("y1", d => y(d)).attr("y2", d => y(d))
  .attr("stroke", "#ff0000").attr("stroke-width", 3).attr("stroke-dasharray", "9,5");
refs.append("line").attr("x1", L).attr("x2", R).attr("y1", y(fairway)).attr("y2", y(fairway))
  .attr("stroke", "#000").attr("stroke-width", 5).attr("stroke-dasharray", "5,3");

// simulated history
plot.append("path").attr("d", line(sim)).attr("fill", "none")
  .attr("stroke", "#0000ff").attr("stroke-width", 10).attr("stroke-linejoin", "round");

// observations
const diamond = d3.symbol(d3.symbolSquare, 361);
svg.append("g").selectAll("path").data(obs).join("path")
  .attr("d", diamond)
  .attr("transform", d => `translate(${x(d.date)},${y(d.v)}) rotate(45)`)
  .attr("fill", "none").attr("stroke", "#000").attr("stroke-width", 8);

// peak forecasts
[[fcMin, "#00ff00"], [fcMax, "#ff0000"], [fcMean, "#0000ff"]].forEach(([s, c]) => {
  plot.append("path").attr("d", line(s)).attr("fill", "none")
    .attr("stroke", c).attr("stroke-width", 10).attr("stroke-linejoin", "round");
});

// median
plot.append("path").attr("d", line(median)).attr("fill", "none")
  .attr("stroke", "#ff00ff").attr("stroke-width", 4.5).attr("stroke-linejoin", "round");

// forecast start
svg.append("line").attr("x1", x(fcDate)).attr("x2", x(fcDate)).attr("y1", T + 11).attr("y2", B)
  .attr("stroke", "#00ffff").attr("stroke-width", 10).attr("stroke-dasharray", "15,13");

// axes
const yAxis = svg.append("g").attr("transform", `translate(${L},0)`)
  .call(d3.axisLeft(y).tickValues(yTicks).tickFormat(d3.format(".2f")).tickSize(-15).tickSizeOuter(0).tickPadding(51));
yAxis.select(".domain").attr("stroke-width", 3.5);
yAxis.selectAll(".tick line").attr("stroke-width", 1.5);
yAxis.selectAll("text").attr("dy", 12).attr("font-size", 54).attr("fill", "#000")
  .attr("font-family", "'Liberation Sans', Arial, sans-serif");

const xAxis = svg.append("g").attr("transform", `translate(0,${B})`)
  .call(d3.axisBottom(x).tickValues(months).tickSize(70).tickSizeOuter(0).tickFormat(""));
xAxis.select(".domain").attr("stroke-width", 4);
xAxis.selectAll(".tick line").attr("stroke-width", d => d.getMonth() === 0 ? 2.5 : 1);

const lab = svg.append("g").attr("font-size", 34).attr("fill", "#000");
lab.selectAll("text.m").data(d3.timeMonth.range(x.domain()[0], x.domain()[1])).join("text")
  .attr("x", d => x(d3.timeDay.offset(d, 12))).attr("y", 1120)
  .attr("text-anchor", "middle").text(d => monthNames[d.getMonth()]);
lab.selectAll("text.y").data(months.filter(m => m.getMonth() === 0)).join("text")
  .attr("x", d => x(d) + 3).attr("y", 1164).text(d => d.getFullYear());

// titles
svg.append("text").attr("x", 310).attr("y", 87).attr("font-size", 56)
  .text("Vedenkorkeus, 8102850 Espoonjoki, moottoritien silta N60");
svg.append("text").attr("transform", "translate(100,678) rotate(-90)").attr("text-anchor", "middle")
  .attr("font-size", 49).text("Vedenkorkeus / Water level");
svg.append("text").attr("transform", "translate(100,237) rotate(-90)").attr("text-anchor", "middle")
  .attr("font-size", 49).text("N60+m");
svg.append("text").attr("x", 2224).attr("y", 1138).attr("font-size", 35)
  .text("22-Dec-2024 05:25 WSFS-O");

// legend
const lg = svg.append("g").attr("font-size", 35);
const lx1 = 2223, lx2 = 2541;
function lgText(t, yy, xx) { lg.append("text").attr("x", xx || 2225).attr("y", yy).text(t); }
function lgLine(yy, color, w, dash) {
  lg.append("line").attr("x1", lx1).attr("x2", lx2).attr("y1", yy).attr("y2", yy)
    .attr("stroke", color).attr("stroke-width", w).attr("stroke-dasharray", dash || null);
}
const sp3 = NB + NB + NB;
lgText("Ennusteen alku", 82);           lgLine(97, "#00ffff", 10, "15,13");
lgText("Huipun keskiennuste", 154);     lgLine(170, "#0000ff", 10);
lgText("Suurimman huipun ennuste", 224); lgLine(241, "#ff0000", 10);
lgText("Pienimmän huipun ennuste", 296); lgLine(312, "#00ff00", 10);
lgText("Ennusteen vaihteluväli", 367);  lgLine(384, "#ffff00", 12);
lg.append("path").attr("d", diamond).attr("transform", "translate(2223,429) rotate(45)")
  .attr("fill", "none").attr("stroke", "#000").attr("stroke-width", 8);
lgText("=Havaittu 8102850", 439, 2242);
lgText("Simuloitu historia", 496);      lgLine(511, "#0000ff", 12);
lgText("Vaihteluväli 2013-2023", 566);
lgText(NB + "Havaintoasema 8102850", 608);  lgLine(624, "#d3d3d3", 13);
lgText("Havaintojen mediaani", 678);    lgLine(695, "#ff00ff", 4);
lgText("MHW" + sp3 + "4.21 NHW" + sp3 + "3.80", 751);
lgText("HW" + sp3 + "4.51 m 19.12.2019", 792);  lgLine(808, "#ff0000", 3);
lgText("MNW" + sp3 + "2.87 HNW" + sp3 + "3.11", 862);
lgText("NW" + sp3 + "2.74 m 17.10.2013", 904);  lgLine(920, "#ff0000", 3, "9,5");
lgText("4.91 m - Vesi Turun-", 975);
lgText("väylän reunoilla", 1016);       lgLine(1033, "#000", 5, "4,2");
</script>
</body>
</html>
